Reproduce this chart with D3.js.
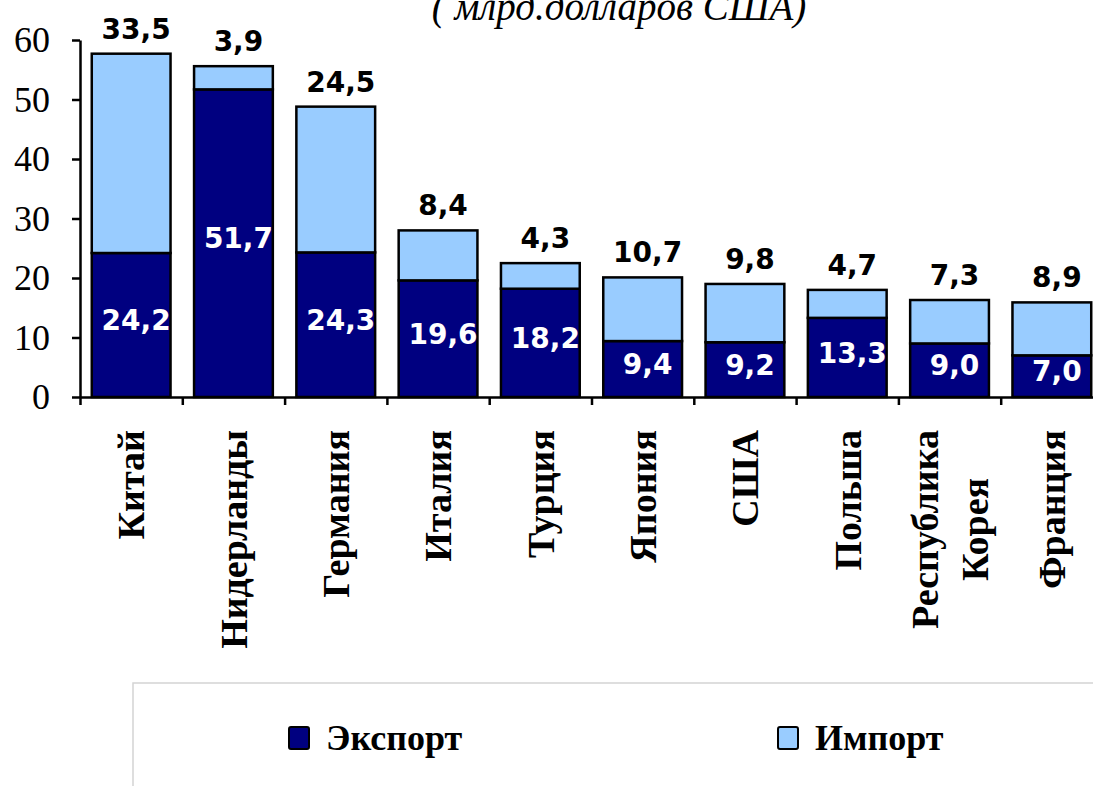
<!DOCTYPE html>
<html>
<head>
<meta charset="utf-8">
<script src="https://cdn.jsdelivr.net/npm/d3@7"></script>
<style>
  body { margin: 0; background: #fff; }
  svg { display: block; }
</style>
</head>
<body>
<svg id="chart" width="1093" height="786"></svg>
<script>
var countries = ['Китай', 'Нидерланды', 'Германия', 'Италия', 'Турция', 'Япония', 'США', 'Польша', 'Республика\nКорея', 'Франция'],
    exportVals = [24.2, 51.7, 24.3, 19.6, 18.2, 9.4, 9.2, 13.3, 9.0, 7.0],
    importVals = [33.5, 3.9, 24.5, 8.4, 4.3, 10.7, 9.8, 4.7, 7.3, 8.9],
    yTicks = [0, 10, 20, 30, 40, 50, 60],
    seriesNames = ['Экспорт', 'Импорт'],
    title = '( млрд.долларов США)';

var colors = ['#000080', '#99ccff'],
    serif = '"Liberation Serif", "Times New Roman", serif',
    fmt = function(v) { return v.toFixed(1).replace('.', ','); };

var svg = d3.select('#chart'),
    plotLeft = 80,
    plotBottom = 397,
    plotTop = 40,
    step = 102.3;

var data = countries.map(function(c, i) {
  return { name: c, exp: exportVals[i], imp: importVals[i] };
});

var x = d3.scaleBand()
          .domain(countries)
          .range([plotLeft, plotLeft + step * countries.length])
          .paddingInner(0.23)
          .paddingOuter(0.115);

var xEdge = d3.scaleLinear()
              .domain([0, countries.length])
              .range([plotLeft, plotLeft + step * countries.length]);

var y = d3.scaleLinear()
          .domain([0, 60])
          .range([plotBottom, plotTop]);

// Title (clipped at top like the original)
svg.append('text')
   .attr('x', 619)
   .attr('y', 20)
   .attr('text-anchor', 'middle')
   .attr('font-family', serif)
   .attr('font-style', 'italic')
   .attr('font-size', 39)
   .text(title);

// Bars
var stack = d3.stack().keys(['exp', 'imp'])(data);

svg.selectAll('.layer')
   .data(stack)
   .enter().append('g')
     .attr('class', 'layer')
     .attr('fill', function(d, i) { return colors[i]; })
   .selectAll('rect')
   .data(function(d) { return d; })
   .enter().append('rect')
     .attr('x', function(d) { return x(d.data.name); })
     .attr('width', x.bandwidth())
     .attr('y', function(d) { return y(d[1]); })
     .attr('height', function(d) { return y(d[0]) - y(d[1]); })
     .attr('stroke', '#000')
     .attr('stroke-width', 2.5);

// Y axis
var yAxis = svg.append('g')
   .attr('transform', 'translate(' + plotLeft + ',0)')
   .call(d3.axisLeft(y).tickValues(yTicks).tickSize(8).tickSizeOuter(0).tickPadding(22))
   .attr('font-family', serif)
   .attr('font-size', 36);
yAxis.select('.domain').attr('stroke-width', 2.5);
yAxis.selectAll('.tick line').attr('stroke-width', 2.5);
yAxis.selectAll('.tick text').attr('fill', '#000');

// X axis (ticks between categories)
var xAxis = svg.append('g')
   .attr('transform', 'translate(0,' + plotBottom + ')')
   .call(d3.axisBottom(xEdge).tickValues(d3.range(countries.length + 1)).tickSize(8).tickSizeOuter(0).tickFormat(''));
xAxis.select('.domain').attr('stroke-width', 2.5);
xAxis.selectAll('.tick line').attr('stroke-width', 2.5);

// Import labels above bars
svg.selectAll('.impLabel')
   .data(data)
   .enter().append('text')
     .attr('class', 'impLabel')
     .attr('x', function(d) { return x(d.name) + x.bandwidth() / 2 + 5; })
     .attr('y', function(d) { return y(d.exp + d.imp) - 15; })
     .attr('text-anchor', 'middle')
     .style('font-family', '"DejaVu Sans", Verdana, sans-serif')
     .style('font-weight', 'bold')
     .style('font-size', '28px')
     .text(function(d) { return fmt(d.imp); });

// Export labels inside bars
svg.selectAll('.expLabel')
   .data(data)
   .enter().append('text')
     .attr('class', 'expLabel')
     .attr('x', function(d) { return x(d.name) + x.bandwidth() / 2 + 5; })
     .attr('y', function(d) { return y(d.exp / 2) - 5; })
     .attr('dy', '0.36em')
     .attr('text-anchor', 'middle')
     .attr('fill', '#fff')
     .style('font-family', '"DejaVu Sans", Verdana, sans-serif')
     .style('font-weight', 'bold')
     .style('font-size', '28px')
     .text(function(d) { return fmt(d.exp); });

// Category labels, rotated
var labelEnd = 430,
    lineHeight = 50;

var catLabels = svg.selectAll('.cat')
   .data(countries)
   .enter().append('text')
     .attr('class', 'cat')
     .attr('transform', function(d) {
       return 'translate(' + (x(d) + x.bandwidth() / 2) + ',' + labelEnd + ') rotate(-90)';
     })
     .attr('font-family', serif)
     .attr('font-weight', 'bold')
     .attr('font-size', 38);

catLabels.each(function(d) {
  var el = d3.select(this),
      lines = d.split('\n');
  lines.forEach(function(line, i) {
    el.append('tspan')
      .attr('x', 0)
      .attr('y', (i - (lines.length - 1) / 2) * lineHeight)
      .attr('dy', '0.35em')
      .text(line);
  });
  // longest line ends at labelEnd, others centred on it
  var maxLen = d3.max(el.selectAll('tspan').nodes(), function(n) { return n.getComputedTextLength(); });
  el.selectAll('tspan')
    .attr('x', -maxLen / 2)
    .attr('text-anchor', 'middle');
});

// Legend
svg.append('rect')
   .attr('x', 133)
   .attr('y', 683)
   .attr('width', 1100)
   .attr('height', 200)
   .attr('fill', 'none')
   .attr('stroke', '#d4d4d4')
   .attr('stroke-width', 1.5);

var legendX = [289, 778];
var legend = svg.selectAll('.legend')
   .data(seriesNames)
   .enter().append('g')
     .attr('class', 'legend')
     .attr('transform', function(d, i) { return 'translate(' + legendX[i] + ',727)'; });

legend.append('rect')
      .attr('width', 20)
      .attr('height', 22)
      .attr('rx', 2)
      .attr('fill', function(d, i) { return colors[i]; })
      .attr('stroke', '#000')
      .attr('stroke-width', 2);

legend.append('text')
      .attr('x', 37)
      .attr('y', 23)
      .attr('font-family', serif)
      .attr('font-weight', 'bold')
      .attr('font-size', 36)
      .text(function(d) { return d; });
</script>
</body>
</html>
